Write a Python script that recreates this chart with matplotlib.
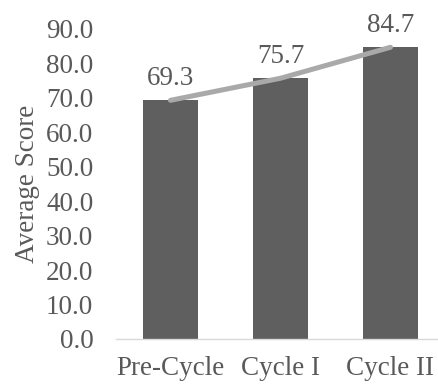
import numpy as np
import matplotlib.pyplot as plt

stages = ['Pre-Cycle', 'Cycle I', 'Cycle II']
scores = [69.3, 75.7, 84.7]
y_ticks = np.arange(0, 91, 10)

plt.rcParams['font.family'] = ['Liberation Serif', 'DejaVu Serif']
text_color = '#595959'
fs = 19.5

fig = plt.figure(figsize=(4.38, 3.87), dpi=100)
ax = fig.add_axes([115.5 / 438, 48 / 387, 330 / 438, 310 / 387])

x = np.arange(len(stages))
ax.bar(x, scores, width=0.5, color='#5f5f5f', zorder=2)
ax.plot(x, scores, color='#a9a9a9', linewidth=3.6, solid_capstyle='round', zorder=3)

for xi, v in zip(x, scores):
    ax.annotate(f'{v:.1f}', (xi, v), xytext=(0, 7), textcoords='offset points',
                ha='center', va='bottom', fontsize=fs, color=text_color)

ax.set_xlim(-0.5, 2.5)
ax.set_ylim(0, 90)
ax.set_yticks(y_ticks)
ax.set_yticklabels([f'{t:.1f}' for t in y_ticks])
ax.set_xticks(x)
ax.set_xticklabels(stages)
ax.tick_params(axis='both', length=0, labelsize=fs, labelcolor=text_color)
ax.tick_params(axis='y', pad=16)
ax.tick_params(axis='x', pad=12)
ax.set_ylabel('Average Score', fontsize=fs, color=text_color, labelpad=4)

for side in ['top', 'right', 'left']:
    ax.spines[side].set_visible(False)
ax.spines['bottom'].set_color('#d9d9d9')
ax.spines['bottom'].set_linewidth(1.0)

fig.savefig('out.png', dpi=100)
